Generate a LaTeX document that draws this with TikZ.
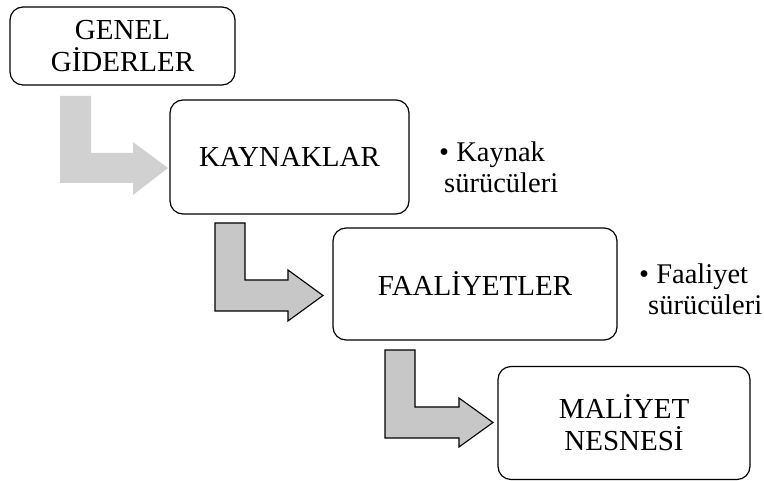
\documentclass[tikz,border=0pt]{standalone}
\usepackage{fontspec}
\setmainfont{Liberation Serif}
\begin{document}
\begin{tikzpicture}[x=1pt,y=-1pt,
  box/.style={draw=black, line width=1.2pt, rounded corners=13pt, align=center,
    inner sep=0pt, font=\fontsize{29}{32}\selectfont},
  side/.style={align=left, inner sep=0pt, anchor=base west, font=\fontsize{28.5}{31}\selectfont},
  lightarrow/.style={fill=black!18, draw=none},
  darkarrow/.style={fill=black!22, draw=black, line width=1.1pt}]
\useasboundingbox (0,0) rectangle (764,481);
% boxes
\node[box, minimum width=225pt, minimum height=78pt] (gg) at (122.5,46) {GENEL\\GİDERLER};
\node[box, minimum width=239pt, minimum height=114pt] (kay) at (289.5,157) {KAYNAKLAR};
\node[box, minimum width=284pt, minimum height=112pt] (faa) at (475,284) {FAALİYETLER};
\node[box, minimum width=252pt, minimum height=113pt] (mal) at (624,423) {MALİYET\\NESNESİ};
% side notes
\node[side] (ks) at (439,193) {• Kaynak\\\hspace{5pt}sürücüleri};
\node[side] (fs) at (639,315) {• Faaliyet\\\hspace{9pt}sürücüleri};
% bent arrows
\draw[lightarrow] (60,96) -- (91,96) -- (91,153) -- (133,153) -- (133,142) -- (168,168)
  -- (133,195) -- (133,183) -- (60,183) -- cycle;
\draw[darkarrow] (215,223) -- (245,223) -- (245,280) -- (288,280) -- (288,270) -- (323,295.5)
  -- (288,321) -- (288,311) -- (215,311) -- cycle;
\draw[darkarrow] (385,350) -- (415,350) -- (415,407) -- (459,407) -- (459,398) -- (493,422.5)
  -- (459,447) -- (459,438) -- (385,438) -- cycle;
\end{tikzpicture}
\end{document}
